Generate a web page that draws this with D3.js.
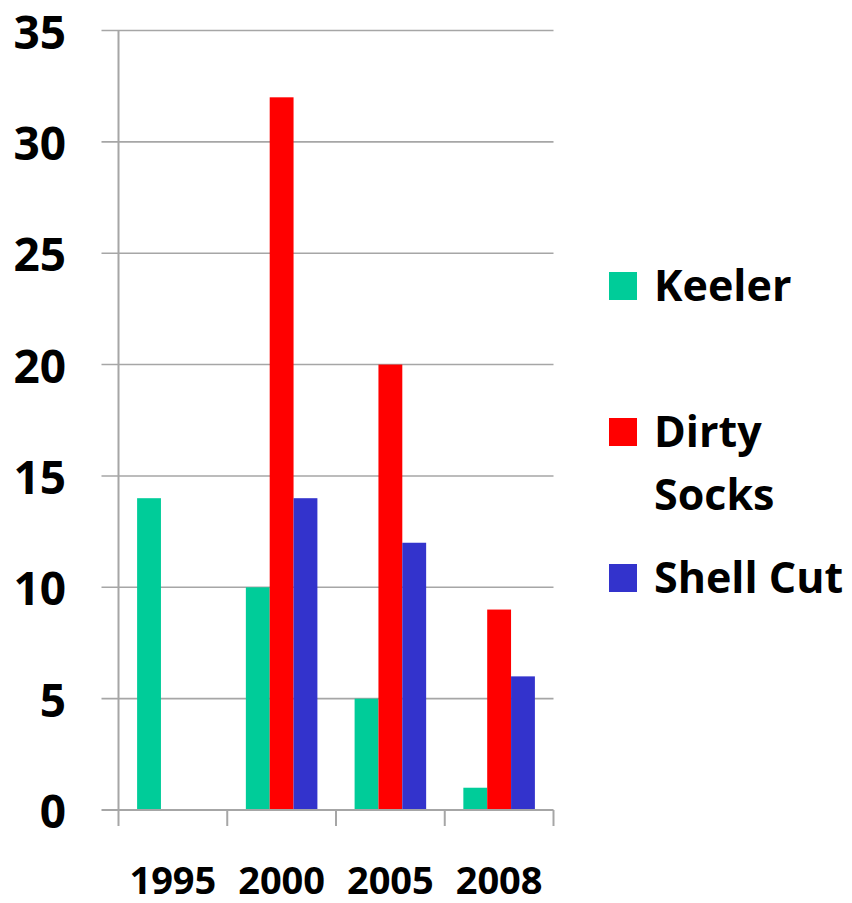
<!DOCTYPE html>
<html>
<head>
<meta charset="utf-8">
<script src="https://cdn.jsdelivr.net/npm/d3@7"></script>
<style>
  html, body { margin: 0; padding: 0; background: #fff; }
  svg { display: block; }
  text { font-family: "Open Sans", sans-serif; font-weight: bold; fill: #000; }
</style>
</head>
<body>
<svg id="chart" width="852" height="903"></svg>
<script>
const categories = ["1995", "2000", "2005", "2008"];
const seriesNames = ["Keeler", "Dirty Socks", "Shell Cut"];
const keeler = [14, 10, 5, 1];
const dirtySocks = [0, 32, 20, 9];
const shellCut = [0, 14, 12, 6];
const yTicks = [0, 5, 10, 15, 20, 25, 30, 35];
const colors = ["#00CC99", "#FF0000", "#3333CC"];

const seriesValues = [keeler, dirtySocks, shellCut];

const svg = d3.select("#chart");
const plotLeft = 118.5, plotRight = 553.5, plotTop = 30.5, plotBottom = 810;

const x = d3.scaleBand().domain(categories).range([plotLeft, plotRight]);
const xSub = d3.scaleBand().domain(seriesNames).range([0, x.bandwidth()]).paddingInner(0).paddingOuter(0.78);
const y = d3.scaleLinear().domain([0, 35]).range([plotBottom, plotTop]);

// gridlines
svg.append("g").selectAll("line").data(yTicks.filter(d => d > 0)).join("line")
  .attr("x1", plotLeft - 17).attr("x2", plotRight)
  .attr("y1", d => y(d)).attr("y2", d => y(d))
  .attr("stroke", "#a6a6a6").attr("stroke-width", 1.6);

// bars
const data = [];
categories.forEach((c, i) => {
  seriesNames.forEach((s, j) => {
    data.push({ c, s, v: seriesValues[j][i], color: colors[j] });
  });
});
svg.append("g").selectAll("rect").data(data.filter(d => d.v > 0)).join("rect")
  .attr("x", d => x(d.c) + xSub(d.s))
  .attr("width", xSub.bandwidth())
  .attr("y", d => y(d.v))
  .attr("height", d => y(0) - y(d.v))
  .attr("fill", d => d.color);

// y axis line
svg.append("line").attr("x1", plotLeft).attr("x2", plotLeft).attr("y1", plotTop).attr("y2", plotBottom + 16)
  .attr("stroke", "#a6a6a6").attr("stroke-width", 2);
// x axis line
svg.append("line").attr("x1", plotLeft - 17).attr("x2", plotRight).attr("y1", plotBottom).attr("y2", plotBottom)
  .attr("stroke", "#a6a6a6").attr("stroke-width", 2);
// x ticks at band boundaries
const boundaries = categories.map(c => x(c)).slice(1).concat([plotRight]);
svg.append("g").selectAll("line").data(boundaries).join("line")
  .attr("x1", d => d).attr("x2", d => d).attr("y1", plotBottom).attr("y2", plotBottom + 16)
  .attr("stroke", "#a6a6a6").attr("stroke-width", 2);

// y labels
svg.append("g").selectAll("text").data(yTicks).join("text")
  .attr("x", 66).attr("y", d => y(d))
  .attr("text-anchor", "end").attr("dominant-baseline", "central")
  .style("font-size", "46px")
  .text(d => d);

// x labels
svg.append("g").selectAll("text").data(categories).join("text")
  .attr("x", d => x(d) + x.bandwidth() / 2).attr("y", 894)
  .attr("text-anchor", "middle")
  .style("font-size", "38px")
  .text(d => d);

// legend
const legendItems = [
  { lines: ["Keeler"], sq: 272, base: 301 },
  { lines: ["Dirty", "Socks"], sq: 418, base: 447 },
  { lines: ["Shell Cut"], sq: 564, base: 593 }
];
const lg = svg.append("g");
legendItems.forEach((it, i) => {
  lg.append("rect").attr("x", 609).attr("y", it.sq).attr("width", 28).attr("height", 28).attr("fill", colors[i]);
  it.lines.forEach((t, k) => {
    lg.append("text").attr("x", 654).attr("y", it.base + k * 63)
      .style("font-size", "43px").text(t);
  });
});
</script>
</body>
</html>
